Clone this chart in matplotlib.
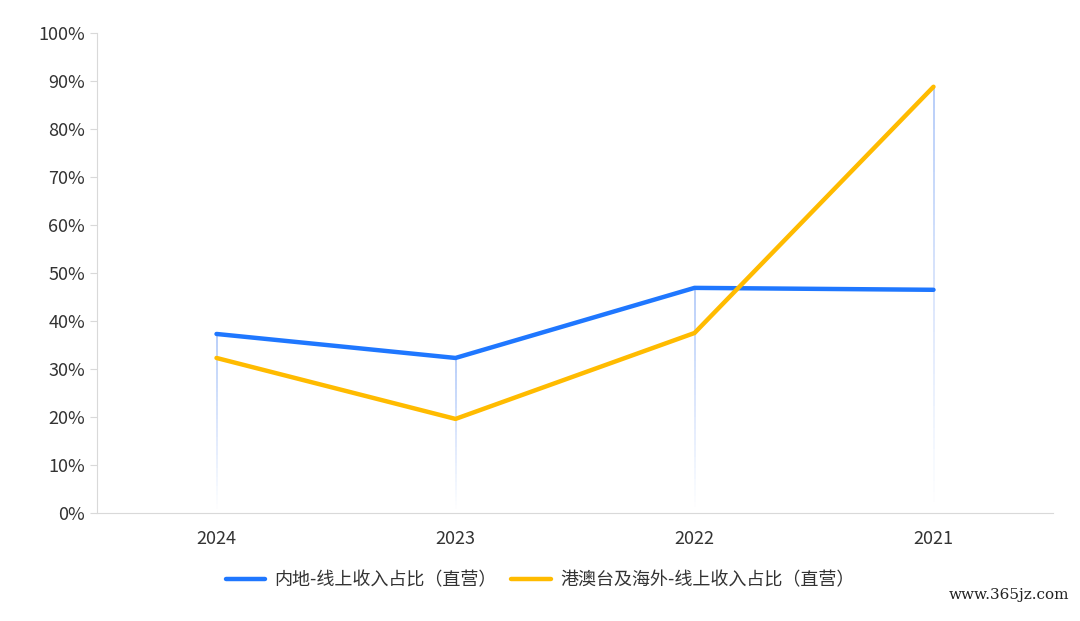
import matplotlib
matplotlib.use("Agg")
import matplotlib.pyplot as plt
import numpy as np
from matplotlib.collections import LineCollection

plt.rcParams['font.family'] = ['Noto Sans CJK SC', 'DejaVu Sans']

years = ["2024", "2023", "2022", "2021"]
mainland = [37.3, 32.3, 46.9, 46.5]
overseas = [32.3, 19.6, 37.5, 88.8]
series_names = ["内地-线上收入占比（直营）", "港澳台及海外-线上收入占比（直营）"]
yticks = list(range(0, 101, 10))

fig = plt.figure(figsize=(10.8, 6.21), dpi=100)
ax = fig.add_axes([97/1080, 1-513/621, (1053-97)/1080, (513-33)/621])
x = np.arange(len(years))

# faint gradient drop lines
for xi, top in zip(x, np.maximum(mainland, overseas)):
    n = 40
    ys = np.linspace(top, 0, n + 1)
    segs = [[(xi, ys[i]), (xi, ys[i+1])] for i in range(n)]
    alphas = np.linspace(0.5, 0.0, n)
    cols = [(0.35, 0.55, 0.95, a) for a in alphas]
    ax.add_collection(LineCollection(segs, colors=cols, linewidths=1.2, zorder=1))

ax.plot(x, mainland, color="#1f77ff", lw=3.2, label=series_names[0], zorder=3, solid_capstyle='round')
ax.plot(x, overseas, color="#ffbb00", lw=3.2, label=series_names[1], zorder=3, solid_capstyle='round')

ax.set_xlim(-0.5, len(years) - 0.5)
ax.set_ylim(0, 100)
ax.set_xticks(x)
ax.set_xticklabels(years)
ax.set_yticks(yticks)
ax.set_yticklabels([f"{v}%" for v in yticks])
for s in ["top", "right"]:
    ax.spines[s].set_visible(False)
for s in ["left", "bottom"]:
    ax.spines[s].set_color("#d9d9d9")
ax.tick_params(axis='y', colors="#d9d9d9", labelcolor="#333333", labelsize=13, length=5)
ax.tick_params(axis='x', length=0, labelcolor="#333333", labelsize=13, pad=12)

fig.legend(loc="center", bbox_to_anchor=(0.5, 1-580/621), ncol=2, frameon=False,
           fontsize=13, handlelength=2.2, columnspacing=0.8, handletextpad=0.5,
           labelcolor="#333333")
fig.text(0.99, 0.03, "www.365jz.com", ha="right", va="bottom", fontsize=11,
         color="#222222", family="DejaVu Serif")
fig.savefig("out.png", dpi=100)
